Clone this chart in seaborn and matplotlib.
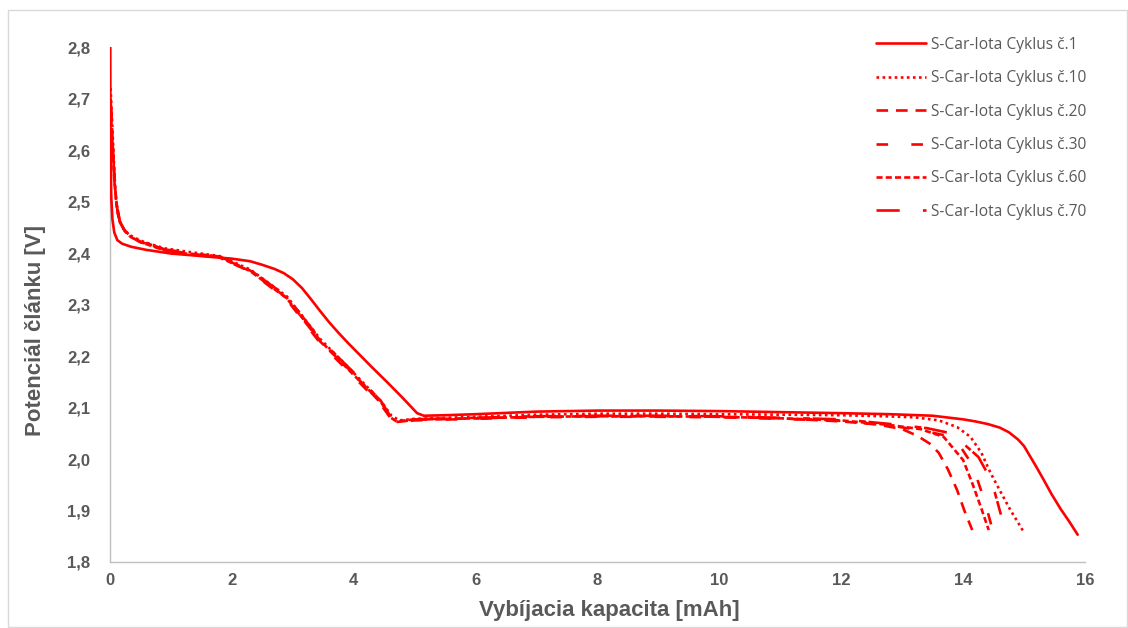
import numpy as np
import pandas as pd
import seaborn as sns
import matplotlib.pyplot as plt
from matplotlib.patches import Rectangle
from matplotlib.ticker import FuncFormatter

# discharge curves (x = capacity mAh, v = potential V)
c1_x = [0.004, 0.006, 0.01, 0.02, 0.04, 0.07, 0.12, 0.2, 0.35, 0.6, 1.0, 1.5, 2.0, 2.3, 2.5, 2.7, 2.85, 3.0,
        3.15, 3.3, 3.45, 3.6, 3.75, 3.9, 4.1, 4.3, 4.55, 4.8, 5.04, 5.15, 5.5, 6, 7, 8, 9, 10, 11, 12, 12.8,
        13.5, 14.0, 14.2, 14.4, 14.6, 14.75, 14.9, 15.0, 15.1, 15.2, 15.32, 15.45, 15.6, 15.75, 15.88]
c1_v = [2.80, 2.70, 2.60, 2.51, 2.465, 2.44, 2.425, 2.418, 2.412, 2.406, 2.399, 2.394, 2.389, 2.384,
        2.377, 2.369, 2.361, 2.349, 2.332, 2.310, 2.287, 2.265, 2.245, 2.226, 2.202, 2.178, 2.149, 2.119,
        2.089, 2.084, 2.085, 2.087, 2.092, 2.094, 2.094, 2.093, 2.091, 2.089, 2.087, 2.084, 2.077, 2.073,
        2.068, 2.061, 2.052, 2.038, 2.025, 2.005, 1.985, 1.96, 1.932, 1.903, 1.877, 1.853]

c10_x = [0.01, 0.04, 0.07, 0.1, 0.15, 0.22, 0.32, 0.5, 0.7, 0.9, 1.3, 1.8, 2.3, 2.9, 3.45, 4.0, 4.45, 4.62,
         4.75, 5.0, 6, 7, 8, 9, 10, 11, 12, 12.7, 13.2, 13.6, 13.9, 14.12, 14.3, 14.45, 14.62, 14.78, 14.9, 15.0]
c10_v = [2.72, 2.64, 2.56, 2.50, 2.465, 2.447, 2.435, 2.424, 2.416, 2.409, 2.402, 2.394, 2.368, 2.316,
         2.233, 2.167, 2.112, 2.084, 2.075, 2.078, 2.082, 2.086, 2.088, 2.088, 2.087, 2.086, 2.085, 2.083,
         2.081, 2.075, 2.062, 2.043, 2.012, 1.973, 1.935, 1.90, 1.877, 1.857]

c20_x = [0.02, 0.05, 0.08, 0.12, 0.17, 0.25, 0.35, 0.5, 0.7, 0.9, 1.3, 1.8, 2.3, 2.9, 3.45, 4.0, 4.45, 4.6,
         4.72, 5.0, 6, 7, 8, 9, 10, 11, 12, 12.6, 13.0, 13.25, 13.45, 13.6, 13.75, 13.9, 14.02, 14.15]
c20_v = [2.68, 2.60, 2.53, 2.485, 2.458, 2.442, 2.432, 2.422, 2.414, 2.406, 2.399, 2.392, 2.366, 2.313,
         2.228, 2.165, 2.108, 2.082, 2.072, 2.076, 2.079, 2.082, 2.083, 2.083, 2.082, 2.079, 2.073, 2.067,
         2.058, 2.045, 2.03, 2.012, 1.98, 1.94, 1.90, 1.862]

c30_x = [0.03, 0.06, 0.09, 0.13, 0.18, 0.26, 0.36, 0.5, 0.7, 0.9, 1.3, 1.8, 2.3, 2.9, 3.45, 4.0, 4.45, 4.6,
         4.7, 5.0, 6, 7, 8, 9, 10, 11, 12, 12.8, 13.3, 13.7, 13.95, 14.1, 14.22, 14.32, 14.42, 14.5]
c30_v = [2.62, 2.56, 2.51, 2.475, 2.455, 2.441, 2.43, 2.421, 2.413, 2.405, 2.398, 2.391, 2.364, 2.31,
         2.225, 2.16, 2.105, 2.08, 2.071, 2.075, 2.078, 2.081, 2.082, 2.082, 2.081, 2.078, 2.074, 2.065,
         2.056, 2.046, 2.025, 1.998, 1.965, 1.93, 1.89, 1.855]

c60_x = [0.02, 0.05, 0.08, 0.11, 0.16, 0.24, 0.34, 0.5, 0.7, 0.9, 1.3, 1.8, 2.3, 2.9, 3.45, 4.0, 4.45, 4.6,
         4.7, 5.0, 6, 7, 8, 9, 10, 11, 12, 12.8, 13.3, 13.68, 14.0, 14.15, 14.29, 14.42]
c60_v = [2.66, 2.59, 2.53, 2.49, 2.46, 2.443, 2.431, 2.421, 2.413, 2.405, 2.398, 2.391, 2.365, 2.312,
         2.23, 2.163, 2.11, 2.081, 2.073, 2.077, 2.079, 2.082, 2.083, 2.083, 2.082, 2.079, 2.075, 2.066,
         2.058, 2.043, 1.998, 1.953, 1.907, 1.862]

c70_x = [0.01, 0.04, 0.07, 0.11, 0.16, 0.23, 0.33, 0.5, 0.7, 0.9, 1.3, 1.8, 2.3, 2.9, 3.45, 4.0, 4.45, 4.6,
         4.72, 5.0, 6, 7, 8, 9, 10, 11, 12, 12.8, 13.4, 13.8, 14.05, 14.25, 14.4, 14.52, 14.62]
c70_v = [2.70, 2.62, 2.55, 2.495, 2.462, 2.446, 2.433, 2.423, 2.415, 2.407, 2.4, 2.393, 2.367, 2.316,
         2.232, 2.168, 2.112, 2.083, 2.074, 2.077, 2.08, 2.083, 2.084, 2.084, 2.083, 2.08, 2.077, 2.068,
         2.06, 2.05, 2.025, 2.004, 1.972, 1.935, 1.892]

labels = ["S-Car-Iota Cyklus č.1", "S-Car-Iota Cyklus č.10", "S-Car-Iota Cyklus č.20",
          "S-Car-Iota Cyklus č.30", "S-Car-Iota Cyklus č.60", "S-Car-Iota Cyklus č.70"]

curves = [(c1_x, c1_v), (c10_x, c10_v), (c20_x, c20_v), (c30_x, c30_v), (c60_x, c60_v), (c70_x, c70_v)]
styles = ["-", (0, (1, 1.3)), (0, (4.4, 3)), (0, (4.4, 8.8)), (0, (2.3, 1.2)), (0, (8.8, 8.8, 2.6, 1))]

sns.set_style("white")
grey = "#595959"
font = ["Liberation Sans", "DejaVu Sans"]

fig = plt.figure(figsize=(11.28, 6.28), dpi=100)
ax = fig.add_axes([110 / 1128, 1 - 562 / 628, 975 / 1128, 515 / 628])

for (xs, vs), lab, ls in zip(curves, labels, styles):
    df = pd.DataFrame({"kap": xs, "pot": vs})
    sns.lineplot(data=df, x="kap", y="pot", ax=ax, color="#ff0000", linewidth=1.9,
                 linestyle=ls, sort=False, estimator=None, label=lab, zorder=3)

ax.set_xlim(0, 16)
ax.set_ylim(1.8, 2.8)
ax.set_xticks(np.arange(0, 17, 2))
ax.set_yticks(np.arange(1.8, 2.81, 0.1))
ax.yaxis.set_major_formatter(FuncFormatter(lambda v, p: f"{v:.1f}".replace(".", ",")))

for s in ["top", "right"]:
    ax.spines[s].set_visible(False)
for s in ["left", "bottom"]:
    ax.spines[s].set_color("#bfbfbf")
    ax.spines[s].set_linewidth(1.0)
    ax.spines[s].set_zorder(1)

ax.tick_params(axis="both", length=0, labelcolor=grey, labelsize=12)
ax.tick_params(axis="y", pad=14)
ax.tick_params(axis="x", pad=8)
for t in ax.get_xticklabels() + ax.get_yticklabels():
    t.set_fontweight("bold")
    t.set_family(font)

ax.set_xlabel("Vybíjacia kapacita [mAh]", fontsize=16, fontweight="bold", color=grey, family=font)
ax.set_ylabel("Potenciál článku [V]", fontsize=16, fontweight="bold", color=grey, family=font)
ax.xaxis.set_label_coords(0.512, -0.074)
ax.yaxis.set_label_coords(-0.066, 0.45)

handles, labs = ax.get_legend_handles_labels()
leg = ax.legend(handles, labs, loc="upper left", bbox_to_anchor=(868 / 1128, 1 - 29 / 628),
                bbox_transform=fig.transFigure, frameon=False, handlelength=3.2, handletextpad=0.35,
                labelspacing=1.12, borderpad=0, prop={"family": "Open Sans", "size": 11.2})
for t in leg.get_texts():
    t.set_color(grey)

# light chart-area border
fig.patches.append(Rectangle((8 / 1128, 0.002), 1 - 9 / 1128, 1 - 10 / 628 - 0.002,
                             transform=fig.transFigure, fill=False, edgecolor="#d9d9d9", linewidth=1))

fig.savefig("out.png", dpi=100)
